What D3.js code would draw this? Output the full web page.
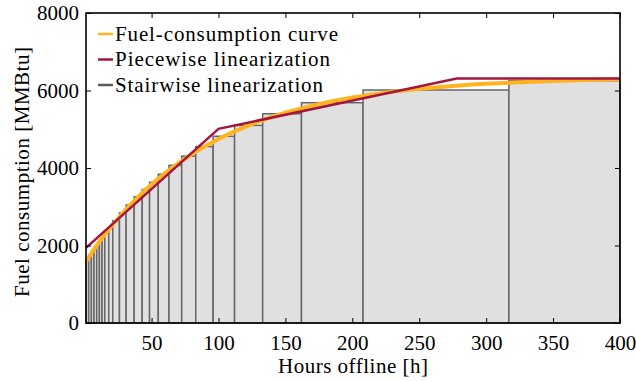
<!DOCTYPE html>
<html>
<head>
<meta charset="utf-8">
<script src="https://cdn.jsdelivr.net/npm/d3@7"></script>
<style>
    body { margin: 0; background: #fff; }
</style>
</head>
<body>
<div class="canvas"></div>
<script>
// fuel-consumption curve
const curveHours = [1, 10, 20, 30, 40, 50, 60, 75, 90, 100, 125, 150, 175, 200, 225, 250, 275, 300, 325, 350, 375, 400];
const curveFuel = [1580, 2050, 2495, 2896, 3256, 3578, 3866, 4244, 4563, 4749, 5134, 5426, 5648, 5817, 5945, 6042, 6116, 6172, 6215, 6247, 6272, 6291];

// piecewise linearization
const pieceHours = [1, 100, 278, 400];
const pieceFuel = [1940, 5010, 6310, 6310];

// stairwise linearization: step edges and step values
const stepEdges = [1, 3, 5, 7, 9, 11, 13, 15, 18, 21, 26, 31, 37, 43, 48.5, 55, 63, 72.5, 83, 96, 112, 133, 162, 208, 317, 400];
const stepFuel = [1650, 1750, 1854, 1952, 2047, 2141, 2232, 2344, 2474, 2640, 2839, 3045, 3256, 3445, 3631, 3839, 4069, 4307, 4553, 4819, 5100, 5400, 5685, 6013, 6253];

const xTicks = [50, 100, 150, 200, 250, 300, 350, 400];
const yTicks = [0, 2000, 4000, 6000, 8000];

const legendLabels = ["Fuel-consumption curve", "Piecewise linearization", "Stairwise linearization"];
const legendColors = ["#ffb41e", "#a3173f", "#58595b"];
const legendWidths = [223, 215, 208];

const serif = "'Liberation Serif', 'Times New Roman', Times, serif";

let margin = { left: 86, right: 16, top: 13, bottom: 58 };
let chartDims = {
    width: 636 - margin.left - margin.right,
    height: 381 - margin.top - margin.bottom,
};

const svg = d3
    .select(".canvas")
    .append("svg")
    .attr("width", 636)
    .attr("height", 381)
    .style("font-family", serif);

const chart = svg
    .append("g")
    .attr("transform", `translate(${margin.left},${margin.top})`);

const x = d3.scaleLinear().domain([1, 400]).range([0, chartDims.width]);
const y = d3.scaleLinear().domain([0, 8000]).range([chartDims.height, 0]);

// stairs
const steps = stepFuel.map((v, i) => ({ x0: stepEdges[i], x1: stepEdges[i + 1], v: v }));
chart
    .selectAll("rect.step")
    .data(steps)
    .enter()
    .append("rect")
    .attr("class", "step")
    .attr("x", (d) => x(d.x0))
    .attr("y", (d) => y(d.v))
    .attr("width", (d) => x(d.x1) - x(d.x0))
    .attr("height", (d) => y(0) - y(d.v))
    .attr("fill", "#e0e0e0")
    .attr("stroke", "#66666a")
    .attr("stroke-width", 1.5);

const lineGen = d3
    .line()
    .x((d) => x(d[0]))
    .y((d) => y(d[1]));

chart
    .append("path")
    .datum(d3.zip(curveHours, curveFuel))
    .attr("d", lineGen.curve(d3.curveMonotoneX))
    .attr("fill", "none")
    .attr("stroke", legendColors[0])
    .attr("stroke-width", 4);

chart
    .append("path")
    .datum(d3.zip(pieceHours, pieceFuel))
    .attr("d", lineGen.curve(d3.curveLinear))
    .attr("fill", "none")
    .attr("stroke", legendColors[1])
    .attr("stroke-width", 2.5);

// axes, ticks pointing inward on all four sides
const xAxis = d3.axisBottom(x).tickValues(xTicks).tickSizeInner(-5).tickSizeOuter(0).tickPadding(12);
const yAxis = d3
    .axisLeft(y)
    .tickValues(yTicks)
    .tickSizeInner(-5)
    .tickSizeOuter(0)
    .tickPadding(7)
    .tickFormat(d3.format("d"));

const xAxisGroup = chart
    .append("g")
    .attr("transform", `translate(0,${chartDims.height})`)
    .call(xAxis);
const yAxisGroup = chart.append("g").call(yAxis);

chart
    .append("g")
    .call(d3.axisTop(x).tickValues(xTicks).tickSizeInner(-5).tickSizeOuter(0).tickFormat(""));
chart
    .append("g")
    .attr("transform", `translate(${chartDims.width},0)`)
    .call(d3.axisRight(y).tickValues(yTicks).tickSizeInner(-5).tickSizeOuter(0).tickFormat(""));

chart.selectAll(".domain").remove();
chart.selectAll(".tick line").attr("stroke", "#000").attr("stroke-width", 1);
chart.selectAll("g").attr("font-family", null);
xAxisGroup.selectAll("text").style("font-size", "21px").style("font-family", serif);
yAxisGroup.selectAll("text").style("font-size", "21px").style("font-family", serif);

chart
    .append("rect")
    .attr("width", chartDims.width)
    .attr("height", chartDims.height)
    .attr("fill", "none")
    .attr("stroke", "#000")
    .attr("stroke-width", 1.6);

// axis titles
svg.append("text")
    .attr("x", 353)
    .attr("y", 373)
    .attr("text-anchor", "middle")
    .style("font-size", "21px")
    .style("font-family", serif)
    .attr("textLength", 150)
    .attr("lengthAdjust", "spacing")
    .text("Hours offline [h]");

svg.append("text")
    .attr("transform", `translate(29,172) rotate(-90)`)
    .attr("text-anchor", "middle")
    .style("font-size", "21px")
    .style("font-family", serif)
    .attr("textLength", 250)
    .attr("lengthAdjust", "spacing")
    .text("Fuel consumption [MMBtu]");

// legend
const legend = chart
    .selectAll("g.legend")
    .data(legendLabels)
    .enter()
    .append("g")
    .attr("class", "legend")
    .attr("transform", (d, i) => `translate(12,${21 + i * 25.5})`);

legend
    .append("line")
    .attr("x1", 0)
    .attr("x2", 15)
    .attr("stroke", (d, i) => legendColors[i])
    .attr("stroke-width", 2.5);

legend
    .append("text")
    .attr("x", 17)
    .attr("dy", "0.33em")
    .style("font-size", "21px")
    .style("font-family", serif)
    .attr("textLength", (d, i) => legendWidths[i])
    .attr("lengthAdjust", "spacing")
    .text((d) => d);
</script>
</body>
</html>
